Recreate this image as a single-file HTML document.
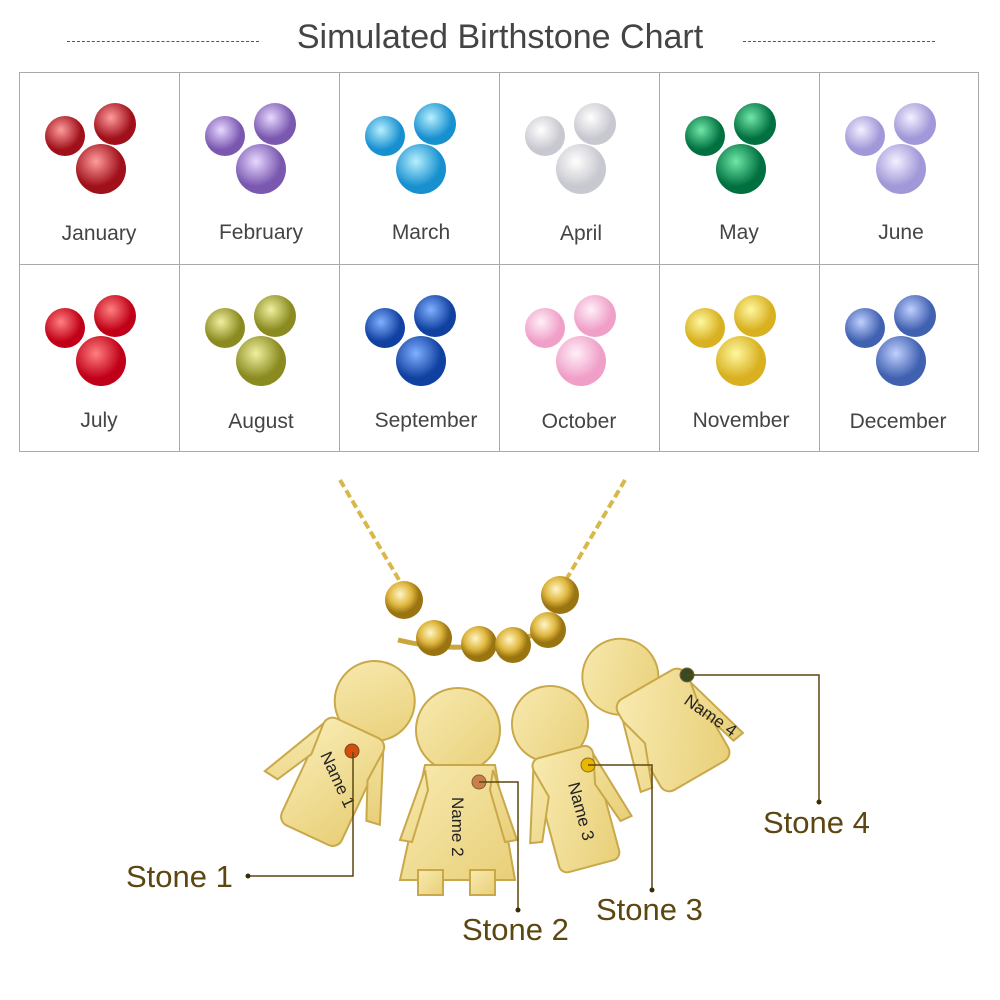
<!DOCTYPE html>
<html><head><style>
body{margin:0;width:1000px;height:1000px;background:#fff;position:relative;overflow:hidden;font-family:"Liberation Sans",sans-serif}
.t{position:absolute;top:18px;left:0;width:1000px;text-align:center;font-size:34px;color:#444}
.d{position:absolute;top:41px;border-top:1px dashed #555;width:192px}
.lab{position:absolute;font-size:31px;color:#5c4710}
</style></head><body>
<div class="t">Simulated Birthstone Chart</div>
<div class="d" style="left:67px"></div><div class="d" style="left:743px"></div>
<svg width="1000" height="1000" style="position:absolute;left:0;top:0">
<defs>
<radialGradient id="g0" cx="40%" cy="35%"><stop offset="0" stop-color="#ff9c9c"/><stop offset="1" stop-color="#a0101a"/></radialGradient>
<radialGradient id="g1" cx="40%" cy="35%"><stop offset="0" stop-color="#e8d8ff"/><stop offset="1" stop-color="#7a58b0"/></radialGradient>
<radialGradient id="g2" cx="40%" cy="35%"><stop offset="0" stop-color="#b8f0ff"/><stop offset="1" stop-color="#1890d0"/></radialGradient>
<radialGradient id="g3" cx="40%" cy="35%"><stop offset="0" stop-color="#ffffff"/><stop offset="1" stop-color="#c8c8d0"/></radialGradient>
<radialGradient id="g4" cx="40%" cy="35%"><stop offset="0" stop-color="#70e8a8"/><stop offset="1" stop-color="#007040"/></radialGradient>
<radialGradient id="g5" cx="40%" cy="35%"><stop offset="0" stop-color="#f4f0ff"/><stop offset="1" stop-color="#a098d8"/></radialGradient>
<radialGradient id="g6" cx="40%" cy="35%"><stop offset="0" stop-color="#ff8080"/><stop offset="1" stop-color="#c00018"/></radialGradient>
<radialGradient id="g7" cx="40%" cy="35%"><stop offset="0" stop-color="#f0f0a0"/><stop offset="1" stop-color="#8a8a20"/></radialGradient>
<radialGradient id="g8" cx="40%" cy="35%"><stop offset="0" stop-color="#80b0ff"/><stop offset="1" stop-color="#1040a0"/></radialGradient>
<radialGradient id="g9" cx="40%" cy="35%"><stop offset="0" stop-color="#fff0f8"/><stop offset="1" stop-color="#f0a0c8"/></radialGradient>
<radialGradient id="g10" cx="40%" cy="35%"><stop offset="0" stop-color="#fff8a0"/><stop offset="1" stop-color="#d8b020"/></radialGradient>
<radialGradient id="g11" cx="40%" cy="35%"><stop offset="0" stop-color="#c0d0ff"/><stop offset="1" stop-color="#4060b0"/></radialGradient>
<linearGradient id="au" x1="0" y1="0" x2="1" y2="1"><stop offset="0" stop-color="#f8eab0"/><stop offset="1" stop-color="#e8cf78"/></linearGradient>
<radialGradient id="bd" cx="40%" cy="35%"><stop offset="0" stop-color="#fff6c8"/><stop offset="0.6" stop-color="#e0b840"/><stop offset="1" stop-color="#9a7410"/></radialGradient>
</defs>
<g fill="none" stroke="#aaa" stroke-width="1">
<rect x="19.5" y="72.5" width="959" height="379"/>
<line x1="19" y1="264.5" x2="979" y2="264.5"/>
<line x1="179.5" y1="72" x2="179.5" y2="452"/><line x1="339.5" y1="72" x2="339.5" y2="452"/>
<line x1="499.5" y1="72" x2="499.5" y2="452"/><line x1="659.5" y1="72" x2="659.5" y2="452"/>
<line x1="819.5" y1="72" x2="819.5" y2="452"/>
</g>
<g id="gems"></g>
<g font-size="21" fill="#444" text-anchor="middle">
<text x="99" y="240">January</text><text x="261" y="239">February</text><text x="421" y="239">March</text><text x="581" y="240">April</text><text x="739" y="239">May</text><text x="901" y="239">June</text>
<text x="99" y="427">July</text><text x="261" y="428">August</text><text x="426" y="427">September</text><text x="579" y="428">October</text><text x="741" y="427">November</text><text x="898" y="428">December</text>
</g>
<g stroke="#d8b848" stroke-width="4" fill="none" stroke-dasharray="8 4">
<path d="M340 480 L405 590"/><path d="M625 480 L560 590"/>
</g>
<path d="M398 640 Q480 660 560 625" stroke="#c9a640" stroke-width="5" fill="none"/>
<g fill="url(#bd)">
<circle cx="404" cy="600" r="19"/><circle cx="560" cy="595" r="19"/>
<circle cx="434" cy="638" r="18"/><circle cx="479" cy="644" r="18"/><circle cx="513" cy="645" r="18"/><circle cx="548" cy="630" r="18"/>
</g>
<g fill="url(#au)" stroke="#c9a84a" stroke-width="2">
<g transform="rotate(25 340 740)"><circle cx="355" cy="690" r="40"/><rect x="318" y="722" width="66" height="118" rx="10"/><path d="M318 732 L285 800 L300 802 L320 765Z M384 732 L412 800 L398 802 L382 765Z"/></g>
<g><circle cx="458" cy="730" r="42"/><path d="M425 765 L495 765 L515 880 L400 880Z"/><rect x="418" y="870" width="25" height="25"/><rect x="470" y="870" width="25" height="25"/><path d="M425 770 L400 840 L412 842 L428 790Z M493 770 L517 840 L505 842 L490 790Z"/></g>
<g transform="rotate(-15 570 760)"><circle cx="560" cy="720" r="38"/><rect x="532" y="750" width="62" height="118" rx="8"/><path d="M532 760 L510 830 L522 832 L540 790Z M594 760 L615 830 L603 832 L588 790Z"/></g>
<g transform="rotate(-30 680 700)"><circle cx="640" cy="650" r="38"/><rect x="620" y="670" width="78" height="105" rx="10"/><path d="M620 690 L600 760 L612 762 L628 720Z M698 690 L718 760 L706 762 L693 720Z"/></g>
</g>
<g font-size="17" fill="#222">
<text transform="translate(320 755) rotate(65)">Name 1</text>
<text transform="translate(452 797) rotate(90)">Name 2</text>
<text transform="translate(568 784) rotate(75)">Name 3</text>
<text transform="translate(683 703) rotate(35)">Name 4</text>
</g>
<circle cx="352" cy="751" r="7" fill="#d05010" stroke="#8a4010"/>
<circle cx="479" cy="782" r="7" fill="#c88048" stroke="#806040"/>
<circle cx="588" cy="765" r="7" fill="#e8b800" stroke="#907010"/>
<circle cx="687" cy="675" r="7" fill="#3a4a20" stroke="#806040"/>
<g stroke="#5c4710" stroke-width="1.5" fill="none">
<path d="M248 876 H353 V752"/><path d="M479 782 H518 V910"/><path d="M588 765 H652 V890"/><path d="M687 675 H819 V802"/>
</g>
<g fill="#3a2c08"><circle cx="248" cy="876" r="2.5"/><circle cx="518" cy="910" r="2.5"/><circle cx="652" cy="890" r="2.5"/><circle cx="819" cy="802" r="2.5"/></g>
</svg>
<div class="lab" style="left:126px;top:859px">Stone 1</div>
<div class="lab" style="left:462px;top:912px">Stone 2</div>
<div class="lab" style="left:596px;top:892px">Stone 3</div>
<div class="lab" style="left:763px;top:805px">Stone 4</div>
<script>
var g=document.getElementById('gems'),s='';
for(var i=0;i<12;i++){var c=i%6,r=Math.floor(i/6),x=19+160*c+80,y=r?264:72;
s+='<circle cx="'+(x-34)+'" cy="'+(y+64)+'" r="20" fill="url(#g'+i+')"/>';
s+='<circle cx="'+(x+16)+'" cy="'+(y+52)+'" r="21" fill="url(#g'+i+')"/>';
s+='<circle cx="'+(x+2)+'" cy="'+(y+97)+'" r="25" fill="url(#g'+i+')"/>';}
g.innerHTML=s;
</script>
</body></html>
